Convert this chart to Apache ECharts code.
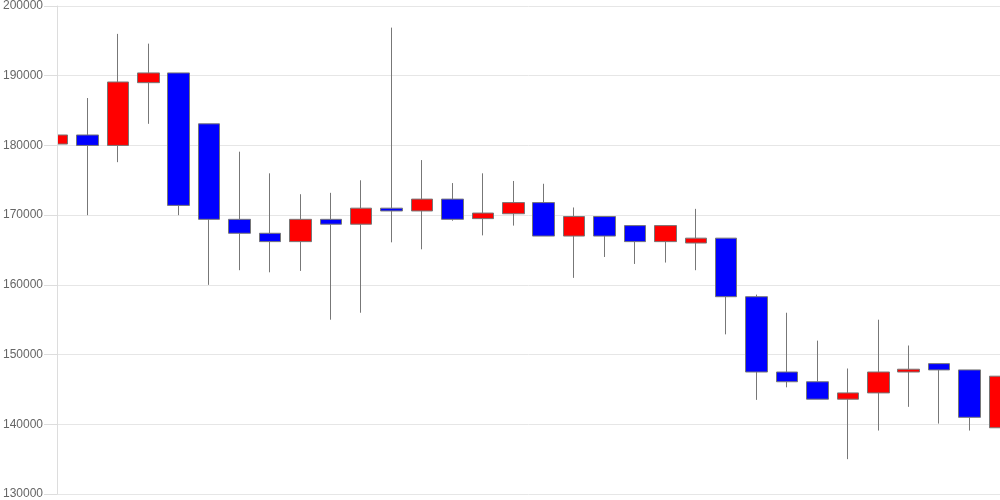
<!DOCTYPE html>
<html>
<head>
<meta charset="utf-8">
<script src="https://cdn.jsdelivr.net/npm/echarts@6/dist/echarts.min.js"></script>
<style>html,body{margin:0;padding:0;background:#fff;}#c{width:1000px;height:500px;}</style>
</head>
<body>
<div id="c"></div>
<script>
var categories = ['1','2','3','4','5','6','7','8','9','10','11','12','13','14','15','16','17','18','19','20','21','22','23','24','25','26','27','28','29','30','31','32'];
var openVals  = [180200,181500,180000,189000,190400,183100,169400,167400,166200,169400,168700,171000,170600,172300,169500,170200,171800,167000,169800,168500,166200,166000,166700,158300,147500,146100,143600,144500,147500,148700,147800,139500];
var closeVals = [181500,180000,189100,190400,171400,169400,167400,166200,169400,168700,171000,170600,172300,169400,170300,171800,167000,169800,167000,166200,168500,166700,158300,147500,146100,143600,144500,147500,147900,147800,141000,146900];
var lowVals   = [170500,170000,177600,183100,170000,160000,162100,161800,162000,155000,156000,166100,165100,169200,167100,168500,167000,161000,164000,163000,163200,162100,152900,143500,145300,143600,135000,139100,142500,140100,139100,139500];
var highVals  = [187100,186800,196000,194600,190400,183100,179100,176000,173000,173200,175000,196900,177900,174600,176000,174900,174500,171100,169800,168500,168500,170900,166700,158600,156000,152000,148000,155000,151300,148700,147800,146900];
var yTicks = [130000,140000,150000,160000,170000,180000,190000,200000];

var data = categories.map(function(c,i){ return [openVals[i], closeVals[i], lowVals[i], highVals[i]]; });

var yMin = yTicks[0], yMax = yTicks[yTicks.length-1];
var chart = echarts.init(document.getElementById('c'), null, {renderer:'canvas'});
chart.setOption({
  animation: false,
  grid: {left: 57, right: 0, top: 6, bottom: 6, containLabel: false},
  xAxis: {
    type: 'category', data: categories, boundaryGap: false,
    axisLine: {show: false}, axisTick: {show: false}, axisLabel: {show: false}, splitLine: {show: false}
  },
  yAxis: [{
    type: 'value', min: yMin, max: yMax, interval: 10000, z: 0,
    axisLine: {show: false}, axisTick: {show: false}, axisLabel: {show: false},
    splitLine: {show: true, lineStyle: {color: '#e6e6e6'}}
  }, {
    type: 'value', min: yMin, max: yMax, interval: 10000, z: 10, position: 'left',
    axisLine: {show: true, lineStyle: {color: '#dddddd'}},
    axisTick: {show: true, length: 13, lineStyle: {color: '#dddddd'}},
    axisLabel: {color: '#666666', fontSize: 12, fontFamily: 'Liberation Sans, Arial, sans-serif', margin: 14,
      formatter: function(v){ return String(v); }},
    splitLine: {show: false}
  }],
  graphic: [{
    type: 'rect', z: 5, silent: true,
    shape: {x: 0, y: 0, width: 57, height: 500},
    style: {fill: '#ffffff'}
  }],
  series: [{
    type: 'candlestick',
    yAxisIndex: 0,
    data: data,
    barWidth: 22,
    clip: true,
    itemStyle: {
      color: '#ff0000', color0: '#0000ff',
      borderColor: '#777777', borderColor0: '#777777', borderWidth: 1
    }
  }]
});
</script>
</body>
</html>
